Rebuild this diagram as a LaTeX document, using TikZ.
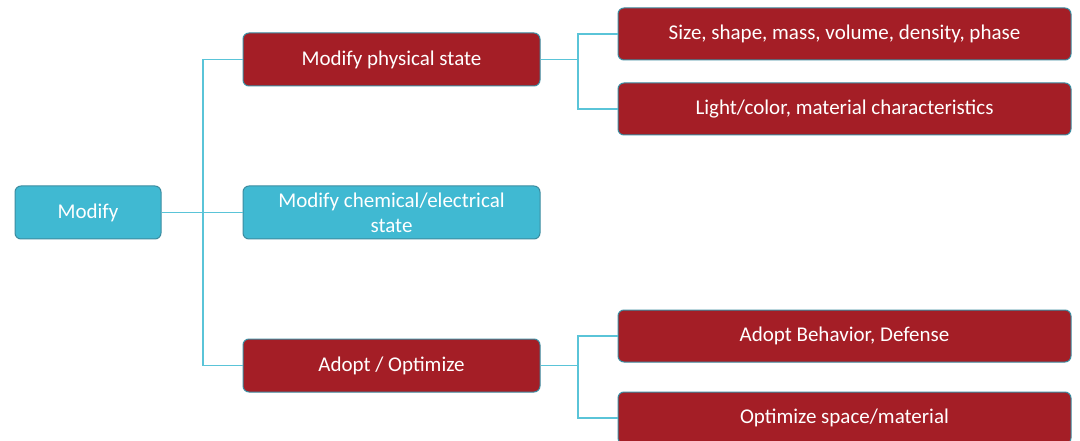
\documentclass[tikz,border=0pt]{standalone}
\usepackage{fontspec}
\setmainfont{Carlito}
\definecolor{boxred}{RGB}{164,30,38}
\definecolor{boxcyan}{RGB}{64,185,210}
\definecolor{edgeteal}{RGB}{60,140,160}
\definecolor{linkcyan}{RGB}{90,196,216}
\begin{document}
\begin{tikzpicture}[x=1pt,y=-1pt,
  base/.style={rounded corners=6pt, draw=edgeteal, line width=1pt, text=white,
    font=\fontsize{21}{25}\selectfont, align=center, inner sep=0pt},
  redbox/.style={base, fill=boxred},
  cyanbox/.style={base, fill=boxcyan},
  link/.style={draw=linkcyan, line width=1.3pt}]
\useasboundingbox (0,0) rectangle (1080,441);
\begin{scope}
\clip (0,0) rectangle (1080,441);
\node[cyanbox, minimum width=146pt, minimum height=53pt] (root) at (88,212.5) {Modify};
\node[redbox, minimum width=297pt, minimum height=53pt] (phys) at (391.5,59.5) {Modify physical state};
\node[cyanbox, minimum width=297pt, minimum height=53pt] (chem) at (391.5,212.5) {Modify chemical/electrical\\state};
\node[redbox, minimum width=297pt, minimum height=53pt] (adopt) at (391.5,365.5) {Adopt / Optimize};
\node[redbox, minimum width=453pt, minimum height=52pt] (size) at (844.5,34) {Size, shape, mass, volume, density, phase};
\node[redbox, minimum width=453pt, minimum height=52pt] (light) at (844.5,109) {Light/color, material characteristics};
\node[redbox, minimum width=453pt, minimum height=52pt] (behav) at (844.5,336) {Adopt Behavior, Defense};
\node[redbox, minimum width=453pt, minimum height=52pt] (space) at (844.5,418) {Optimize space/material};

% first level tree
\coordinate (j1) at (203,212.5);
\draw[link] (root.east) -- (chem.west);
\draw[link] (phys.west) -| (j1) |- (adopt.west);
% second level trees
\coordinate (j2) at (578,59.5);
\draw[link] (phys.east) -- (j2);
\draw[link] (size.west) -| (j2) |- (light.west);
\coordinate (j3) at (578,365.5);
\draw[link] (adopt.east) -- (j3);
\draw[link] (behav.west) -| (j3) |- (space.west);
\end{scope}
\end{tikzpicture}
\end{document}
